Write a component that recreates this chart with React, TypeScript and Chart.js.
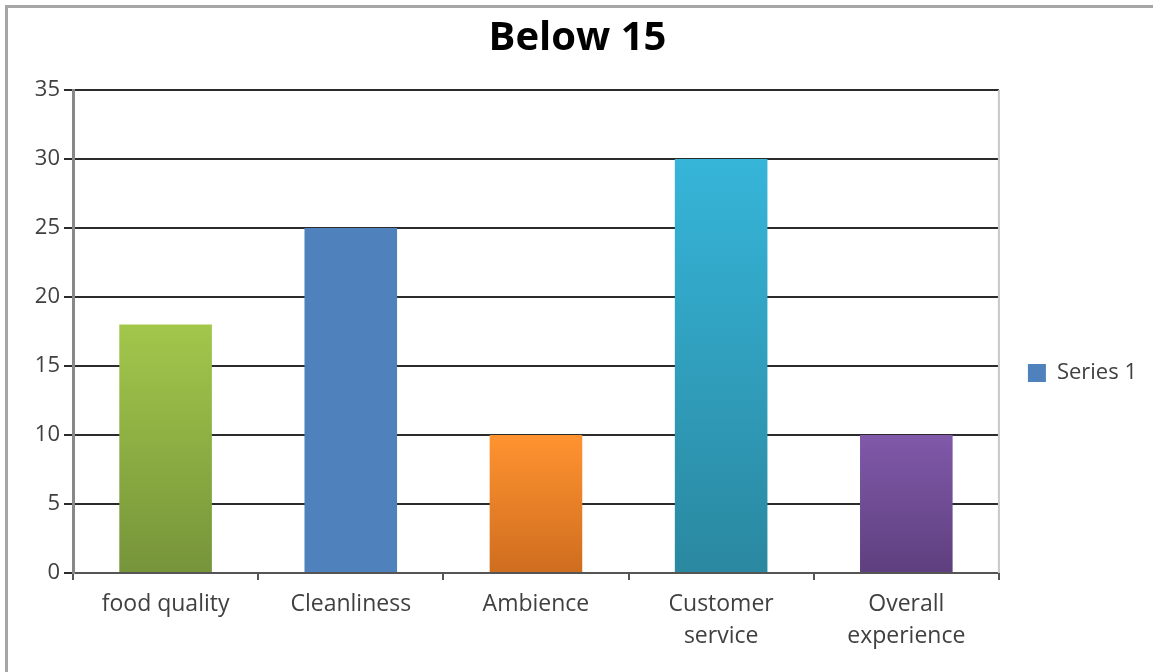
import React, { useEffect, useRef } from "react";
import { Chart, registerables } from "chart.js";

Chart.register(...registerables);

// Chart content
const chartTitle = "Below 15";
const seriesName = "Series 1";
const categories: (string | string[])[] = [
  "food quality",
  "Cleanliness",
  "Ambience",
  ["Customer", "service"],
  ["Overall", "experience"],
];
const values = [18, 25, 10, 30, 10];
const yMin = 0;
const yMax = 35;
const yStep = 5;

// Bar fills: vertical gradient from top colour to bottom colour
const topColors = ["#A2C74B", "#4F81BD", "#FF9330", "#36B5D9", "#8059A9"];
const bottomColors = ["#76943A", "#4F81BD", "#CF6D1F", "#2A88A0", "#5E3F7E"];
const legendColor = "#4F81BD";
const textColor = "#404040";

const FONT = "'Open Sans', 'DejaVu Sans', sans-serif";

// Outer frame and the light right edge of the plot area
const framePlugin = {
  id: "frame",
  beforeDraw(chart: any) {
    const c = chart.ctx;
    c.save();
    c.strokeStyle = "#a6a6a6";
    c.lineWidth = 3;
    c.beginPath();
    c.moveTo(6.5, chart.height);
    c.lineTo(6.5, 6.5);
    c.lineTo(chart.width, 6.5);
    c.stroke();
    c.restore();
  },
  afterDatasetsDraw(chart: any) {
    const { top, bottom, right } = chart.chartArea;
    const c = chart.ctx;
    c.save();
    c.strokeStyle = "#c8c8c8";
    c.lineWidth = 2;
    c.beginPath();
    c.moveTo(right, top);
    c.lineTo(right, bottom);
    c.stroke();
    c.restore();
  },
};

export default function App() {
  const canvasRef = useRef<HTMLCanvasElement | null>(null);

  useEffect(() => {
    if (!canvasRef.current) return;
    const chart = new Chart(canvasRef.current, {
      type: "bar",
      data: {
        labels: categories,
        datasets: [
          {
            label: seriesName,
            data: values,
            backgroundColor: (ctx: any) => {
              const i = ctx.dataIndex;
              const chartRef = ctx.chart;
              const yScale = chartRef.scales?.y;
              if (!chartRef.chartArea || !yScale || typeof ctx.raw !== "number") return topColors[i];
              const top = yScale.getPixelForValue(ctx.raw);
              const bottom = yScale.getPixelForValue(0);
              const g = chartRef.ctx.createLinearGradient(0, top, 0, bottom);
              g.addColorStop(0, topColors[i]);
              g.addColorStop(1, bottomColors[i]);
              return g;
            },
            borderWidth: 0,
            categoryPercentage: 1,
            barPercentage: 0.5,
          },
        ],
      },
      options: {
        animation: false,
        responsive: true,
        maintainAspectRatio: false,
        layout: { padding: { left: 8, top: 8, right: 6, bottom: 0 } },
        plugins: {
          title: {
            display: true,
            text: chartTitle,
            color: "#000000",
            font: { family: FONT, size: 40, weight: "bold", lineHeight: 1.2 },
            padding: { top: 7, bottom: 27 },
          },
          legend: {
            position: "right",
            title: {
              display: true,
              text: "",
              font: { family: FONT, size: 10, lineHeight: 1.2 },
              padding: { top: 0, bottom: 54 },
            },
            labels: {
              color: textColor,
              font: { family: FONT, size: 22 },
              boxWidth: 18,
              boxHeight: 18,
              padding: 29,
              generateLabels: () => [
                {
                  text: seriesName,
                  fillStyle: legendColor,
                  strokeStyle: legendColor,
                  fontColor: textColor,
                  lineWidth: 0,
                  hidden: false,
                  datasetIndex: 0,
                },
              ],
            },
          },
          tooltip: { enabled: false },
        },
        scales: {
          x: {
            afterFit: (scale: any) => {
              scale.height = 99;
            },
            grid: {
              display: true,
              drawOnChartArea: false,
              drawTicks: true,
              tickLength: 7,
              color: "#555555",
              lineWidth: 2,
            },
            border: { display: true, color: "#555555", width: 2 },
            ticks: {
              color: textColor,
              font: { family: FONT, size: 23, lineHeight: 1.4 },
              padding: 8,
              maxRotation: 0,
              autoSkip: false,
            },
          },
          y: {
            min: yMin,
            max: yMax,
            afterFit: (scale: any) => {
              scale.width = 65;
            },
            grid: {
              color: "#2b2b2b",
              lineWidth: 2,
              drawTicks: true,
              tickLength: 9,
            },
            border: { display: true, color: "#888888", width: 3 },
            ticks: {
              stepSize: yStep,
              color: textColor,
              font: { family: FONT, size: 22 },
              padding: 4,
            },
          },
        },
      },
      plugins: [framePlugin],
    });
    return () => chart.destroy();
  }, []);

  return (
    <div style={{ position: "fixed", left: 0, top: 0, width: 1153, height: 672, background: "#ffffff" }}>
      <canvas ref={canvasRef} />
    </div>
  );
}
